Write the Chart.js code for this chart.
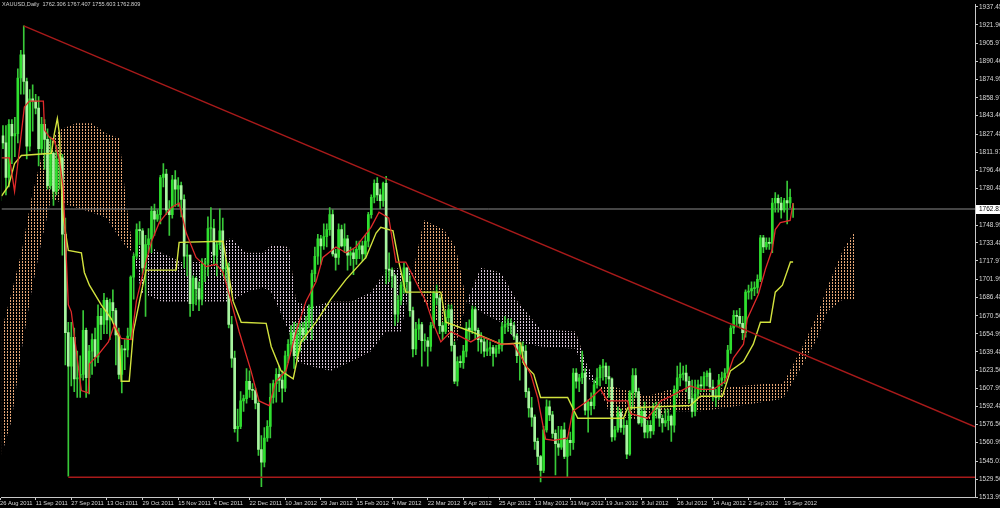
<!DOCTYPE html>
<html>
<head>
<meta charset="utf-8">
<script src="https://cdn.jsdelivr.net/npm/chart.js@4.4.1/dist/chart.umd.min.js"></script>
<style>
  html, body { margin: 0; padding: 0; background: #000; }
  #wrap { width: 1000px; height: 508px; }
</style>
</head>
<body>
<div id="wrap"><canvas id="chart" width="1000" height="508"></canvas></div>
<script>
const title = "XAUUSD,Daily  1762.306 1767.407 1755.603 1762.809";
const lastPrice = 1762.81;

// date labels, one every 12 bars
const labelStep = 12;
const dateLabels = ["26 Aug 2011", "11 Sep 2011", "27 Sep 2011", "13 Oct 2011", "29 Oct 2011", "15 Nov 2011",
  "4 Dec 2011", "22 Dec 2011", "10 Jan 2012", "29 Jan 2012", "15 Feb 2012", "4 Mar 2012", "22 Mar 2012",
  "8 Apr 2012", "25 Apr 2012", "13 May 2012", "31 May 2012", "19 Jun 2012", "8 Jul 2012", "26 Jul 2012",
  "14 Aug 2012", "2 Sep 2012", "19 Sep 2012"];

const priceTicks = [1937.45, 1921.96, 1905.97, 1890.46, 1874.95, 1858.97, 1843.46, 1827.48, 1811.97, 1796.46,
  1780.48, 1748.99, 1733.48, 1717.97, 1701.99, 1686.48, 1670.50, 1654.99, 1639.48, 1623.50, 1607.99,
  1592.48, 1576.50, 1560.99, 1545.01, 1529.50, 1513.99];

// daily candles
const opens = [
  1770,1826,1820,1790,1836,1826,1828,1876,1896,1873,1817,1858,
  1856,1850,1815,1836,1823,1783,1811,1778,1806,1807,1741,1656,
  1627,1652,1616,1617,1620,1658,1617,1640,1650,1635,1670,1663,
  1684,1667,1682,1675,1654,1620,1642,1641,1653,1704,1722,1745,
  1744,1712,1732,1737,1761,1754,1758,1790,1793,1762,1758,1788,
  1780,1783,1771,1722,1723,1681,1703,1694,1685,1715,1716,1746,
  1746,1723,1732,1744,1711,1712,1663,1634,1573,1575,1597,1599,
  1614,1607,1606,1595,1555,1544,1565,1575,1600,1612,1620,1615,
  1608,1636,1646,1656,1636,1654,1660,1654,1665,1677,1707,1722,
  1737,1731,1739,1745,1758,1724,1721,1745,1731,1737,1723,1725,
  1720,1728,1731,1724,1735,1758,1773,1785,1775,1770,1785,1711,
  1710,1705,1672,1684,1697,1712,1700,1675,1642,1659,1663,1649,
  1649,1644,1662,1690,1686,1662,1657,1669,1676,1645,1614,1631,
  1630,1640,1660,1658,1676,1658,1650,1648,1640,1642,1643,1638,
  1642,1645,1661,1663,1664,1662,1653,1636,1644,1640,1605,1591,
  1583,1562,1549,1537,1572,1592,1585,1569,1560,1557,1572,1549,
  1563,1561,1621,1614,1617,1621,1589,1596,1593,1611,1617,1626,
  1627,1618,1616,1566,1572,1587,1574,1576,1551,1604,1619,1605,
  1578,1588,1570,1576,1571,1591,1590,1582,1578,1580,1584,1576,
  1607,1617,1620,1621,1614,1599,1588,1603,1611,1610,1618,1621,
  1609,1601,1600,1615,1617,1621,1641,1660,1671,1670,1664,1656,
  1691,1692,1694,1695,1702,1738,1730,1734,1733,1768,1772,1768,
  1762,1770,1768,1762.31
];
const highs = [
  1830,1835,1835,1840,1840,1842,1884,1900,1921,1876,1866,1870,
  1862,1860,1842,1840,1832,1825,1812,1818,1810,1810,1755,1665,
  1665,1660,1640,1636,1675,1660,1645,1655,1660,1680,1677,1690,
  1686,1685,1693,1677,1660,1645,1650,1660,1705,1724,1750,1752,
  1746,1740,1746,1765,1767,1762,1792,1802,1797,1770,1792,1796,
  1790,1786,1775,1732,1723,1705,1704,1700,1720,1720,1756,1764,
  1754,1735,1763,1755,1720,1716,1670,1640,1590,1605,1602,1625,
  1623,1612,1608,1598,1567,1574,1580,1612,1615,1625,1627,1623,
  1640,1650,1662,1665,1664,1664,1665,1670,1680,1710,1730,1741,
  1740,1750,1750,1764,1762,1728,1750,1749,1750,1740,1730,1728,
  1735,1735,1735,1740,1760,1775,1788,1790,1780,1786,1791,1725,
  1712,1706,1688,1700,1716,1712,1705,1678,1665,1668,1665,1655,
  1652,1665,1692,1697,1688,1665,1675,1680,1680,1648,1635,1636,
  1645,1665,1667,1679,1678,1660,1656,1652,1650,1648,1645,1645,
  1650,1665,1670,1668,1668,1665,1655,1648,1648,1645,1608,1600,
  1585,1565,1550,1575,1598,1597,1588,1572,1575,1575,1578,1565,
  1570,1625,1625,1620,1640,1625,1598,1604,1615,1625,1628,1633,
  1630,1627,1617,1575,1592,1590,1582,1580,1606,1625,1625,1608,
  1592,1596,1580,1580,1595,1596,1595,1585,1590,1590,1585,1610,
  1627,1630,1627,1628,1618,1615,1615,1615,1618,1622,1623,1625,
  1615,1607,1620,1622,1625,1645,1662,1675,1675,1677,1670,1693,
  1697,1700,1700,1706,1740,1740,1738,1738,1772,1777,1775,1773,
  1772,1787,1780,1767.41
];
const lows = [
  1745,1815,1775,1782,1802,1808,1820,1862,1862,1806,1813,1830,
  1845,1800,1810,1797,1780,1780,1766,1775,1780,1723,1628,1532,
  1610,1605,1600,1600,1615,1600,1603,1620,1627,1630,1650,1655,
  1655,1650,1665,1628,1616,1604,1624,1635,1650,1685,1720,1732,
  1706,1670,1725,1725,1740,1752,1750,1782,1758,1740,1755,1765,
  1765,1756,1712,1705,1670,1675,1680,1675,1680,1700,1705,1735,
  1715,1705,1728,1705,1700,1660,1626,1570,1562,1573,1588,1595,
  1600,1598,1590,1550,1523,1540,1562,1565,1595,1596,1605,1596,
  1605,1630,1640,1625,1632,1640,1648,1650,1660,1650,1700,1715,
  1715,1728,1730,1740,1722,1710,1715,1730,1725,1710,1714,1706,
  1715,1720,1718,1720,1730,1755,1768,1770,1763,1765,1698,1700,
  1695,1662,1665,1680,1690,1690,1670,1635,1637,1650,1627,1640,
  1627,1640,1660,1680,1655,1650,1655,1665,1640,1612,1610,1626,
  1625,1635,1650,1655,1650,1640,1638,1635,1636,1636,1627,1635,
  1638,1640,1655,1657,1655,1650,1630,1615,1630,1600,1583,1575,
  1555,1542,1527,1535,1570,1580,1565,1533,1550,1555,1547,1531,
  1550,1555,1608,1605,1612,1585,1570,1585,1590,1608,1610,1615,
  1612,1600,1562,1563,1570,1570,1568,1547,1550,1590,1600,1577,
  1575,1565,1565,1565,1568,1582,1575,1570,1575,1572,1562,1570,
  1600,1610,1615,1605,1595,1583,1584,1600,1605,1605,1610,1605,
  1597,1592,1598,1610,1612,1618,1638,1655,1661,1660,1650,1652,
  1685,1685,1688,1690,1700,1725,1728,1728,1725,1760,1760,1755,
  1760,1750,1764,1755.60
];
const closes = [
  1826,1820,1790,1836,1826,1828,1876,1896,1873,1817,1858,1856,
  1850,1815,1836,1823,1783,1811,1778,1806,1807,1741,1656,1627,
  1652,1616,1617,1620,1658,1617,1640,1650,1635,1670,1663,1684,
  1667,1682,1675,1654,1620,1642,1641,1653,1704,1722,1745,1744,
  1712,1732,1737,1761,1754,1758,1790,1793,1762,1758,1788,1780,
  1783,1771,1722,1723,1681,1703,1694,1685,1715,1716,1746,1746,
  1723,1732,1744,1711,1712,1663,1634,1573,1575,1597,1599,1614,
  1607,1606,1595,1555,1544,1565,1575,1600,1612,1620,1615,1608,
  1636,1646,1656,1636,1654,1660,1654,1665,1677,1707,1722,1737,
  1731,1739,1745,1758,1724,1721,1745,1731,1737,1723,1725,1720,
  1728,1731,1724,1735,1758,1773,1785,1775,1770,1785,1711,1710,
  1705,1672,1684,1697,1712,1700,1675,1642,1659,1663,1649,1649,
  1644,1662,1690,1686,1662,1657,1669,1676,1645,1614,1631,1630,
  1640,1660,1658,1676,1658,1650,1648,1640,1642,1643,1638,1642,
  1645,1661,1663,1664,1662,1653,1636,1644,1640,1605,1591,1583,
  1562,1549,1537,1572,1592,1585,1569,1560,1557,1572,1549,1563,
  1561,1621,1614,1617,1621,1589,1596,1593,1611,1617,1626,1627,
  1618,1616,1566,1572,1587,1574,1576,1551,1604,1619,1605,1578,
  1588,1570,1576,1571,1591,1590,1582,1578,1580,1584,1576,1607,
  1617,1620,1621,1614,1599,1588,1603,1611,1610,1618,1621,1609,
  1601,1600,1615,1617,1621,1641,1660,1671,1670,1664,1656,1691,
  1692,1694,1695,1702,1738,1730,1734,1733,1768,1772,1768,1762,
  1770,1768,1773,1762.81
];

// red line [bar, price]
const tenkan = [[0.5,1807],[3.2,1807],[4.9,1778],[8.2,1851],[9.9,1856],[14.6,1856],[15,1831],[16.6,1825],
  [18.3,1822],[20,1805],[21.3,1781],[23,1680],[24,1674],[27.4,1606],[29.7,1604],[30.1,1629],[33.1,1637],
  [36.5,1648],[38.5,1663],[40.8,1651],[44.2,1650],[45.9,1683],[48.2,1708],[50.9,1734],[53.6,1751],[57.6,1764],
  [60.3,1768],[62.7,1742],[66,1721],[69.4,1713],[72.8,1715],[75.1,1708],[77.8,1683],[80.5,1657],[84.5,1623],
  [87.2,1597],[90.6,1593],[92.9,1614],[96.3,1623],[99.7,1657],[103,1683],[106.4,1700],[108.7,1721],[113.1,1730],
  [116.5,1725],[119.8,1730],[124.9,1747],[127.6,1760],[130.9,1755],[133.3,1717],[136.6,1717],[140,1700],
  [143.4,1683],[145.7,1665],[148.4,1648],[151.8,1657],[158.5,1648],[161.8,1653],[168.6,1646],[172.9,1646],
  [176.3,1631],[178.7,1620],[181,1600],[182.7,1577],[183.7,1564],[186.4,1563],[191.1,1565],[192.8,1588],
  [197.8,1597],[202.2,1607],[204.5,1597],[211.3,1597],[212.3,1586],[218,1582],[222.4,1597],[225.7,1601],
  [232.4,1610],[235.8,1607],[240.2,1607],[244.2,1614],[246.9,1634],[250.3,1646],[251.6,1668],[255.3,1689],
  [257.7,1711],[260,1728],[261,1745],[262.7,1751],[266,1753],[267,1768]];

// yellow line [bar, price]
const kijun = [[0.5,1774],[2.9,1783],[4.9,1802],[7.2,1809],[17.3,1811],[18.3,1828],[19.3,1841],[20,1828],
  [20.7,1781],[21.3,1755],[23,1727],[27.4,1725],[28.4,1708],[30.1,1697],[34.1,1680],[37.5,1668],[40.2,1651],
  [40.8,1614],[43.5,1614],[44.9,1657],[47.6,1691],[49.2,1710],[59.3,1710],[60.3,1734],[75.1,1735],[78.5,1683],
  [81.2,1665],[89.6,1664],[91.3,1644],[94.6,1623],[98.7,1616],[101.3,1648],[106.4,1665],[111.4,1685],
  [116.5,1702],[123.2,1721],[126.6,1742],[128.2,1747],[132.3,1744],[134.3,1717],[136.6,1691],[148.4,1691],
  [150.1,1665],[158.5,1657],[168.6,1646],[175.3,1647],[176.3,1629],[179.7,1620],[182,1600],[191.1,1600],
  [194.5,1582],[209.9,1582],[211.3,1591],[232.4,1593],[235.8,1601],[243.2,1601],[245.9,1623],[250.3,1631],
  [253.6,1646],[256,1665],[259.3,1665],[261,1691],[263.4,1697],[266.1,1717],[267,1717]];

// cloud edges
const cloudX = [0.5,3.9,7.2,10.6,13.9,17.3,20.7,25.7,30.8,35.8,40.2,42.5,44.9,47.6,54.3,61,67.7,72.8,77.8,82.9,
  88.6,91.3,97.3,99.7,104.7,111.4,118.1,124.9,129.9,134.9,139,142.7,149.4,153.4,157.1,161.8,168.6,174.3,182,
  193.8,197.1,201.5,205.5,218,225.7,235.8,249.2,259.3,263.7,270.4,275.1,278.5,283.9,287.9];
const spanA = [1657,1691,1725,1772,1807,1824,1832,1837,1837,1828,1824,1768,1725,1691,1683,1683,1683,1683,1683,1691,
  1695,1691,1657,1631,1627,1623,1631,1640,1657,1657,1708,1753,1745,1730,1683,1674,1665,1648,1644,
  1642,1618,1610,1610,1601,1607,1606,1610,1612,1612,1645,1671,1695,1728,1744];
const spanB = [1550,1580,1640,1691,1734,1772,1768,1764,1760,1755,1738,1730,1725,1734,1725,1717,1717,1730,1738,1725,
  1725,1732,1730,1683,1678,1683,1683,1691,1710,1712,1708,1683,1657,1644,1683,1712,1708,1683,1659,
  1657,1631,1610,1584,1580,1588,1588,1593,1597,1599,1629,1651,1674,1685,1685];

// drawn lines
const trendLine = [[8, 1921], [328.24, 1574.7]];
const supportLine = [[23, 1531], [328.24, 1531]];

const UP = '#2fe02f', DOWN = '#a8f5a0', WICK = '#38c838';
const FONT = 'Liberation Sans';

const canvas = document.getElementById('chart');
const ctx = canvas.getContext('2d');

function dots(color) {
  const t = document.createElement('canvas');
  t.width = 3; t.height = 3;
  const g = t.getContext('2d');
  g.fillStyle = color;
  g.fillRect(1, 0, 1, 2);
  return ctx.createPattern(t, 'repeat');
}
const sandDots = dots('#e6a676');
const thistleDots = dots('#d8c4d6');

function pts(list) { return list.map(p => ({ x: p[0], y: p[1] })); }
function line(data, color, width, order) {
  return { type: 'line', data: data, borderColor: color, borderWidth: width, pointRadius: 0,
    fill: false, tension: 0, order: order };
}

const bgPlugin = {
  id: 'bg',
  beforeDraw(chart) {
    const c = chart.ctx;
    c.save();
    c.fillStyle = '#000';
    c.fillRect(0, 0, chart.width, chart.height);
    c.restore();
  },
  afterDraw(chart) {
    const c = chart.ctx;
    const y = chart.scales.y.getPixelForValue(lastPrice);
    c.save();
    c.fillStyle = '#fff';
    c.fillRect(976, Math.round(y) - 4, 24, 9);
    c.fillStyle = '#000';
    c.font = '6.5px "' + FONT + '"';
    c.textBaseline = 'middle';
    c.fillText(lastPrice.toFixed(2), 979, Math.round(y) + 0.5);
    c.fillStyle = '#d0d0d0';
    c.font = '5.6px "' + FONT + '"';
    c.fillText(title, 2, 4);
    c.restore();
  }
};

new Chart(ctx, {
  type: 'bar',
  data: {
    datasets: [
      { type: 'line', data: cloudX.map((x, k) => ({ x: x, y: spanA[k] })), borderColor: 'rgba(0,0,0,0)',
        borderWidth: 1, pointRadius: 0, tension: 0, order: 10,
        fill: { target: '+1', above: sandDots, below: thistleDots } },
      { type: 'line', data: cloudX.map((x, k) => ({ x: x, y: spanB[k] })), borderColor: 'rgba(0,0,0,0)',
        borderWidth: 1, pointRadius: 0, tension: 0, fill: false, order: 10 },
      line([{ x: 0.504, y: lastPrice }, { x: 328.24, y: lastPrice }], '#8a8a8a', 1, 9),
      { type: 'bar', data: highs.map((h, i) => ({ x: i, y: [lows[i], h] })), backgroundColor: WICK,
        barThickness: 1, grouped: false, order: 6 },
      { type: 'bar', data: opens.map((o, i) => ({ x: i, y: [o, closes[i]] })),
        backgroundColor: c => (c.raw && c.raw.y[1] >= c.raw.y[0]) ? UP : DOWN,
        barThickness: 2, minBarLength: 1, grouped: false, order: 5 },
      line(pts(kijun), '#d2e23e', 1.4, 3),
      line(pts(tenkan), '#e02a2a', 1.3, 2),
      line(pts(trendLine), '#a81a1a', 1.4, 1),
      line(pts(supportLine), '#a81a1a', 1.4, 1)
    ]
  },
  options: {
    responsive: false,
    animation: false,
    devicePixelRatio: 1,
    layout: { padding: 0 },
    plugins: { legend: { display: false }, tooltip: { enabled: false } },
    scales: {
      x: {
        type: 'linear', min: 0.504, max: 328.24, offset: false, bounds: 'data',
        grid: { offset: false, drawOnChartArea: false, tickLength: 3, color: '#c8c8c8' },
        border: { color: '#c8c8c8' },
        ticks: { autoSkip: false, maxRotation: 0, minRotation: 0, align: 'start', padding: 0,
          color: '#d8d8d8', font: { size: 5.8, family: FONT },
          callback: v => dateLabels[Math.round(v / labelStep)] || '' },
        afterBuildTicks: s => { s.ticks = dateLabels.map((d, k) => ({ value: k * labelStep })); },
        afterFit: s => { s.height = 11; }
      },
      y: {
        type: 'linear', position: 'right', min: 1513.99, max: 1939.16, beginAtZero: false, bounds: 'data',
        grid: { drawOnChartArea: false, tickLength: 3, color: '#c8c8c8' },
        border: { color: '#c8c8c8' },
        ticks: { autoSkip: false, padding: 1, color: '#d8d8d8', font: { size: 6.5, family: FONT },
          callback: v => Number(v).toFixed(2) },
        afterBuildTicks: s => { s.ticks = priceTicks.map(v => ({ value: v })); },
        afterFit: s => { s.width = 25; }
      }
    }
  },
  plugins: [bgPlugin]
});
</script>
</body>
</html>
